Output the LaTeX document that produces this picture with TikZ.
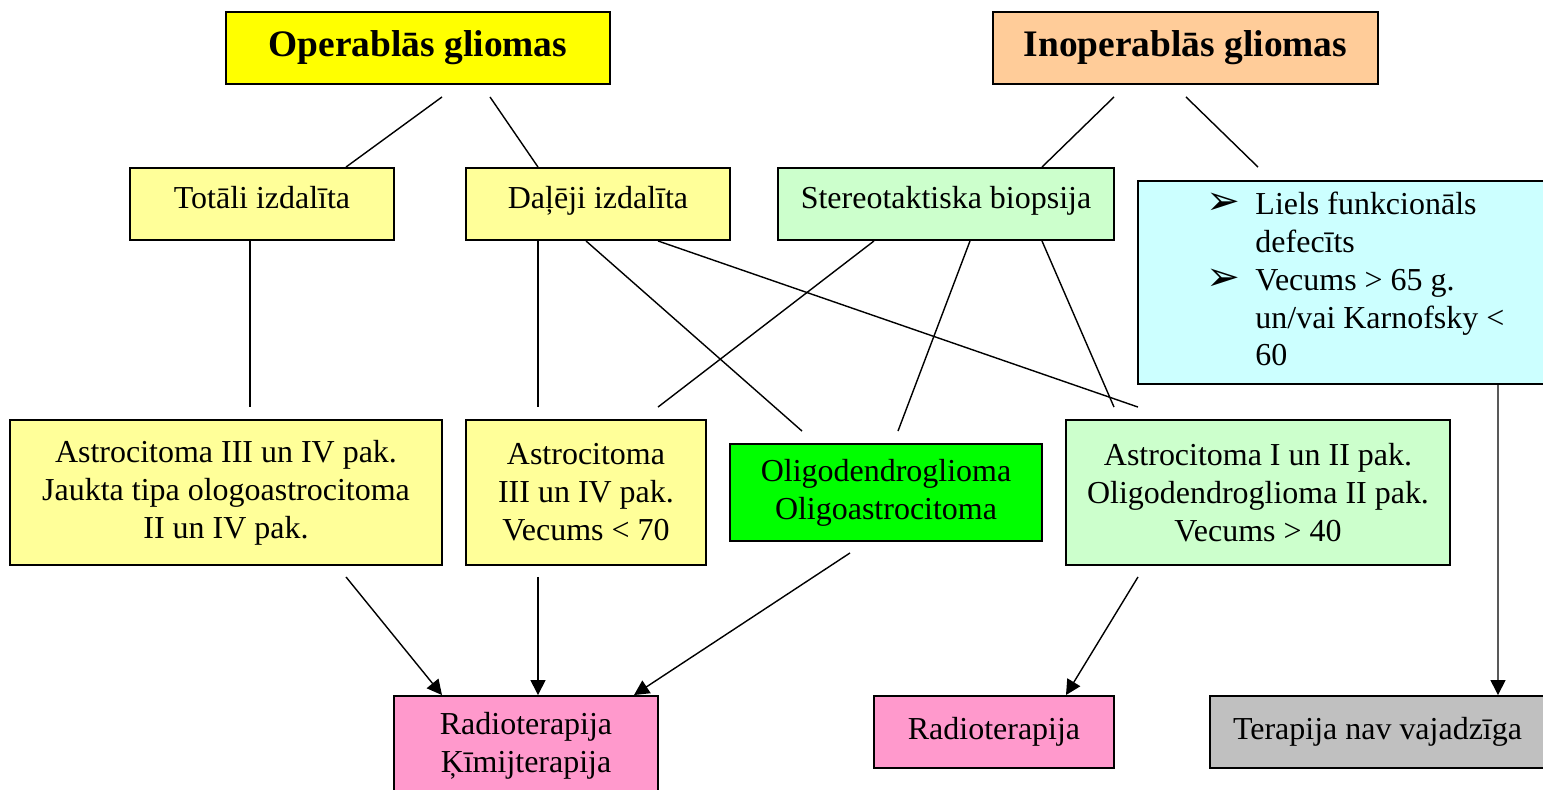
\documentclass[tikz,border=0pt]{standalone}
\usepackage{fontspec}
\setmainfont{Liberation Serif}
\newfontfamily\dingfont{DejaVu Sans}
\usetikzlibrary{arrows.meta,calc}
\definecolor{operdzeltens}{HTML}{FFFF00}
\definecolor{inoporanzs}{HTML}{FFCC99}
\definecolor{gaisdzeltens}{HTML}{FFFF99}
\definecolor{gaiszals}{HTML}{CCFFCC}
\definecolor{gaiszils}{HTML}{CCFFFF}
\definecolor{spilgtzals}{HTML}{00FF00}
\definecolor{roza}{HTML}{FF99CC}
\definecolor{pelecs}{HTML}{C0C0C0}
\newcommand{\bultpunkts}{{\dingfont\fontsize{23}{21.6}\selectfont\char"27A2}}
\tikzset{
	>={Triangle[length=0.3cm,width=0.3cm]},
	kaste/.style={
		rectangle,
		draw=black, line width=1.1pt,
		inner sep=0pt,
		align=center,
		font=\fontsize{18.2}{21.6}\selectfont},
	virsraksts/.style={kaste, font=\fontsize{21.3}{25}\selectfont\bfseries},
	line/.style={draw, line width=0.8pt},
	bulta/.style={line, ->},
}
\begin{document}
\begin{tikzpicture}[x=0.02cm, y=-0.02cm]
	\useasboundingbox (0,0) rectangle (1543,789);
	% virsraksti
	\node[virsraksts, fill=operdzeltens, minimum width=7.68cm, minimum height=1.44cm] (op) at (418,48) {Operablās gliomas};
	\node[virsraksts, fill=inoporanzs, minimum width=7.7cm, minimum height=1.44cm] (inop) at (1185.5,48) {Inoperablās gliomas};
	% otrais limenis
	\node[kaste, fill=gaisdzeltens, minimum width=5.28cm, minimum height=1.44cm, text depth=0.25cm] (tot) at (262,204) {Totāli izdalīta};
	\node[kaste, fill=gaisdzeltens, minimum width=5.28cm, minimum height=1.44cm, text depth=0.25cm] (dal) at (598,204) {Daļēji izdalīta};
	\node[kaste, fill=gaiszals, minimum width=6.72cm, minimum height=1.44cm, text depth=0.25cm] (ster) at (946,204) {Stereotaktiska biopsija};
	\node[kaste, fill=gaiszils, minimum width=8.2cm, minimum height=4.06cm] (def) at (1343,282.5)
		{\hspace{0.5cm}\raisebox{-0.12cm}{\begin{tabular}{@{}l@{\hspace{0.3cm}}l@{}}
			\bultpunkts & Liels funkcionāls\\
			 & defecīts\\
			\bultpunkts & Vecums > 65 g.\\
			 & un/vai Karnofsky <\\
			 & 60
		\end{tabular}}};
	% diagnozes
	\node[kaste, fill=gaisdzeltens, minimum width=8.64cm, minimum height=2.9cm] (ast1) at (226,492.5)
		{Astrocitoma III un IV pak.\\Jaukta tipa ologoastrocitoma\\II un IV pak.};
	\node[kaste, fill=gaisdzeltens, minimum width=4.8cm, minimum height=2.9cm] (ast2) at (586,492.5)
		{Astrocitoma\\III un IV pak.\\Vecums < 70};
	\node[kaste, fill=spilgtzals, minimum width=6.24cm, minimum height=1.94cm] (oligo) at (886,492.5)
		{Oligodendroglioma\\Oligoastrocitoma};
	\node[kaste, fill=gaiszals, minimum width=7.68cm, minimum height=2.9cm] (ast3) at (1258,492.5)
		{Astrocitoma I un II pak.\\Oligodendroglioma II pak.\\Vecums > 40};
	% terapija
	\node[kaste, fill=roza, minimum width=5.28cm, minimum height=1.98cm] (rk) at (526,745.5)
		{Radioterapija\\Ķīmijterapija};
	\node[kaste, fill=roza, minimum width=4.8cm, minimum height=1.44cm] (radio) at (994,732) {Radioterapija};
	\node[kaste, fill=pelecs, minimum width=6.7cm, minimum height=1.44cm] (ter) at (1377.5,732) {Terapija nav vajadzīga};
	% savienojumi
	\path[line] ($(op.south)+(24,12)$) -- ($(tot.north)+(84,0)$);
	\path[line] ($(op.south)+(72,12)$) -- ($(dal.north)+(-60,0)$);
	\path[line] ($(inop.south)+(-71.5,12)$) -- ($(ster.north)+(96,0)$);
	\path[line] ($(inop.south)+(0.5,12)$) -- ($(def.north)+(-85,-13)$);
	\path[line] ($(tot.south)+(-12,0)$) -- ($(ast1.north)+(24,-12)$);
	\path[line] ($(dal.south)+(-60,0)$) -- ($(ast2.north)+(-48,-12)$);
	\path[line] ($(dal.south)+(-12,0)$) -- ($(oligo.north)+(-84,-12)$);
	\path[line] ($(dal.south)+(60,0)$) -- ($(ast3.north)+(-120,-12)$);
	\path[line] ($(ster.south)+(-72,0)$) -- ($(ast2.north)+(72,-12)$);
	\path[line] ($(ster.south)+(24,0)$) -- ($(oligo.north)+(12,-12)$);
	\path[line] ($(ster.south)+(96,0)$) -- ($(ast3.north)+(-144,-12)$);
	\path[bulta] ($(ast1.south)+(120,11)$) -- ($(rk.north)+(-84,0)$);
	\path[bulta] ($(ast2.south)+(-48,11)$) -- ($(rk.north)+(12,0)$);
	\path[bulta] ($(oligo.south)+(-36,11)$) -- ($(rk.north)+(108,0)$);
	\path[bulta] ($(ast3.south)+(-120,11)$) -- ($(radio.north)+(72,0)$);
	\path[bulta] ($(def.south)+(155,0)$) -- ($(ter.north)+(120.5,0)$);
\end{tikzpicture}
\end{document}
